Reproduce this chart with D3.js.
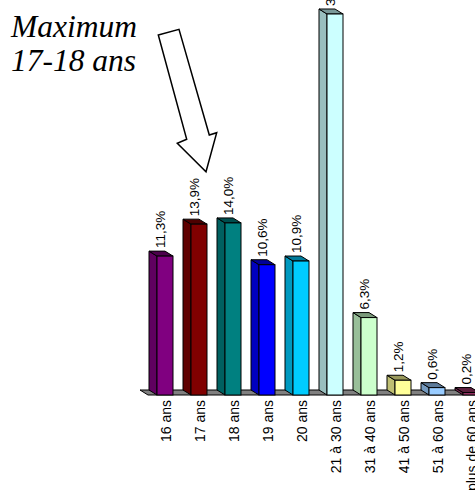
<!DOCTYPE html>
<html>
<head>
<meta charset="utf-8">
<script src="https://cdn.jsdelivr.net/npm/d3@7"></script>
<style>
  html, body { margin: 0; padding: 0; background: #fff; }
  svg { display: block; }
</style>
</head>
<body>
<script>
const categories = ["16 ans", "17 ans", "18 ans", "19 ans", "20 ans", "21 à 30 ans", "31 à 40 ans", "41 à 50 ans", "51 à 60 ans", "plus de 60 ans"];
const values = [11.3, 13.9, 14.0, 10.6, 10.9, 31.0, 6.3, 1.2, 0.6, 0.2];
const valueLabels = ["11,3%", "13,9%", "14,0%", "10,6%", "10,9%", "31,0%", "6,3%", "1,2%", "0,6%", "0,2%"];
const barColors = ["#800080", "#800000", "#008080", "#0000FF", "#00CCFF", "#CCFFFF", "#CCFFCC", "#FFFF99", "#99CCFF", "#993366"];
const titleLines = ["Maximum", "17-18 ans"];

const W = 475, H = 491;
const svg = d3.select("body").append("svg").attr("width", W).attr("height", H);

const dx = 8, dy = 5; // 3D depth offset
const x = d3.scaleBand().domain(categories).range([148, 488]).paddingInner(18 / 34).paddingOuter(9 / 34);
const y = d3.scaleLinear().domain([0, 31]).range([395, 14]);

// floor
const fy = y(0);
svg.append("path")
  .attr("d", `M${140 + dx},${fy} L${W + 20},${fy} L${W + 20 - dx},${fy - dy} L140,${fy - dy} Z`)
  .attr("fill", "#808080").attr("stroke", "#000").attr("stroke-width", 1);

const data = categories.map((c, i) => ({ c, v: values[i], lab: valueLabels[i], col: barColors[i] }));

const g = svg.append("g").selectAll("g").data(data).join("g");
g.each(function (d) {
  const s = d3.select(this);
  const xl = x(d.c), xr = xl + x.bandwidth();
  const yt = y(d.v), yb = y(0);
  const c = d3.color(d.col);
  const side = d3.rgb(c.r * 0.75, c.g * 0.75, c.b * 0.75);
  const top = d3.rgb(c.r * 0.6, c.g * 0.6, c.b * 0.6);
  s.append("path")
    .attr("d", `M${xl},${yt} L${xl - dx},${yt - dy} L${xl - dx},${yb - dy} L${xl},${yb} Z`)
    .attr("fill", side).attr("stroke", "#000").attr("stroke-width", 1).attr("stroke-linejoin", "round");
  s.append("path")
    .attr("d", `M${xl},${yt} L${xr},${yt} L${xr - dx},${yt - dy} L${xl - dx},${yt - dy} Z`)
    .attr("fill", top).attr("stroke", "#000").attr("stroke-width", 1).attr("stroke-linejoin", "round");
  s.append("rect")
    .attr("x", xl).attr("y", yt).attr("width", x.bandwidth()).attr("height", yb - yt)
    .attr("fill", d.col).attr("stroke", "#000").attr("stroke-width", 1);
  // value label
  const lx = xl + x.bandwidth() / 2 - 5, ly = yt - 8;
  s.append("text")
    .attr("transform", `translate(${lx},${ly}) rotate(-90)`)
    .attr("dy", "0.35em")
    .attr("text-anchor", "start")
    .attr("font-family", "Liberation Sans, Arial, sans-serif")
    .attr("font-size", 13.5)
    .attr("fill", "#000")
    .text(d.lab);
});

// category labels
svg.append("g").selectAll("text").data(categories).join("text")
  .attr("transform", d => `translate(${x(d) + x.bandwidth() / 2 + 1},${y(0) + 5}) rotate(-90)`)
  .attr("dy", "0.35em")
  .attr("text-anchor", "end")
  .attr("font-family", "Liberation Sans, Arial, sans-serif")
  .attr("font-size", 14)
  .attr("fill", "#000")
  .text(d => d);

// title annotation
svg.append("g").selectAll("text").data(titleLines).join("text")
  .attr("x", 11)
  .attr("y", (d, i) => 37 + i * 34)
  .attr("font-family", "Liberation Serif, 'Times New Roman', serif")
  .attr("font-style", "italic")
  .attr("font-size", 31.5)
  .attr("fill", "#000")
  .text(d => d);

// block arrow
const arrowPts = [[158.3, 35], [179, 29.3], [209.3, 135], [216.7, 132.7], [206, 171.7], [177.3, 143.3], [186.7, 139.3]];
svg.append("path")
  .attr("d", d3.line()(arrowPts) + "Z")
  .attr("fill", "#fff").attr("stroke", "#000").attr("stroke-width", 1.5).attr("stroke-linejoin", "miter");
</script>
</body>
</html>
